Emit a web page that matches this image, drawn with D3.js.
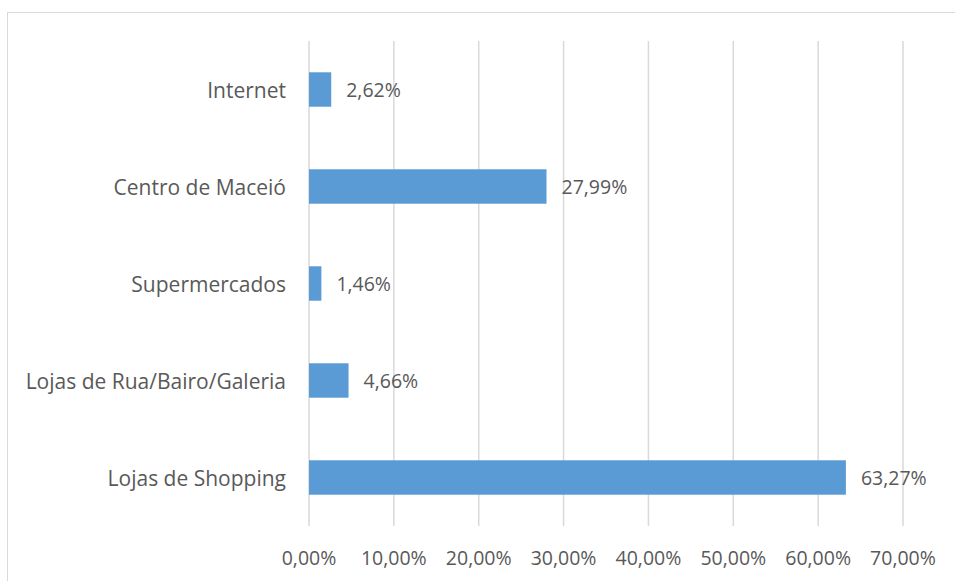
<!DOCTYPE html>
<html>
<head>
<meta charset="utf-8">
<script src="https://cdn.jsdelivr.net/npm/d3@7"></script>
<style>
  body { margin: 0; background: #fff; }
  text { font-family: "Open Sans", sans-serif; fill: #595959; }
</style>
</head>
<body>
<div id="chart"></div>
<script>
// data
const categories = ["Internet", "Centro de Maceió", "Supermercados", "Lojas de Rua/Bairo/Galeria", "Lojas de Shopping"];
const values = [2.62, 27.99, 1.46, 4.66, 63.27];
const xTicks = [0, 10, 20, 30, 40, 50, 60, 70];

const width = 955, height = 581;
const plot = { left: 309, right: 903, top: 41, bottom: 526 };
const labelSize = 21;
const numberSize = 19.5;

const fmt = v => v.toFixed(2).replace(".", ",") + "%";

let svg = d3.select("#chart").append("svg")
    .attr("width", width)
    .attr("height", height);

// chart border
svg.append("rect")
    .attr("x", 7.5).attr("y", 12.5)
    .attr("width", width).attr("height", height)
    .attr("fill", "none")
    .attr("stroke", "#d9d9d9")
    .attr("stroke-width", 1);

let x = d3.scaleLinear().domain([0, 70]).range([plot.left, plot.right]);
let y = d3.scaleBand().domain(categories).range([plot.top, plot.bottom]).paddingInner(0.645).paddingOuter(0.3225);

// gridlines
svg.append("g")
    .selectAll("line")
    .data(xTicks)
    .join("line")
    .attr("x1", d => x(d)).attr("x2", d => x(d))
    .attr("y1", plot.top).attr("y2", plot.bottom)
    .attr("stroke", "#d9d9d9")
    .attr("stroke-width", 1.5);

// x tick labels
svg.append("g")
    .selectAll("text")
    .data(xTicks)
    .join("text")
    .attr("x", d => x(d))
    .attr("y", 557)
    .attr("text-anchor", "middle")
    .attr("dominant-baseline", "central")
    .attr("font-size", numberSize)
    .text(d => fmt(d));

// bars
svg.append("g")
    .selectAll("rect")
    .data(values)
    .join("rect")
    .attr("x", x(0))
    .attr("y", (d, i) => y(categories[i]))
    .attr("width", d => x(d) - x(0))
    .attr("height", y.bandwidth())
    .attr("fill", "#5b9bd5");

// category labels
svg.append("g")
    .selectAll("text")
    .data(categories)
    .join("text")
    .attr("x", x(0) - 23)
    .attr("y", d => y(d) + y.bandwidth() / 2)
    .attr("text-anchor", "end")
    .attr("dominant-baseline", "central")
    .attr("font-size", labelSize)
    .text(d => d);

// value labels
svg.append("g")
    .selectAll("text")
    .data(values)
    .join("text")
    .attr("x", d => x(d) + 15)
    .attr("y", (d, i) => y(categories[i]) + y.bandwidth() / 2)
    .attr("dominant-baseline", "central")
    .attr("font-size", numberSize)
    .text(d => fmt(d));
</script>
</body>
</html>
